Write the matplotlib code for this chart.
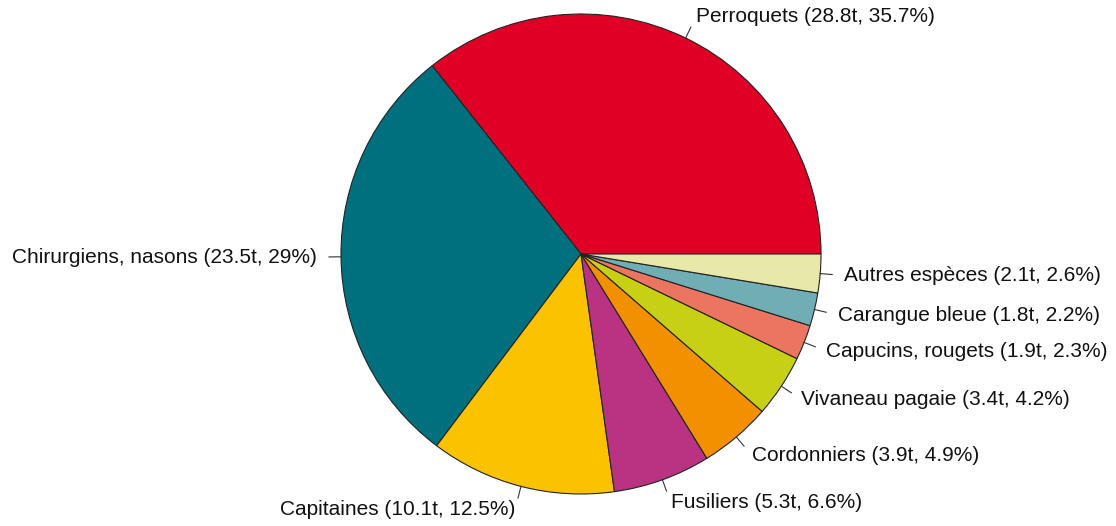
import numpy as np
import matplotlib.pyplot as plt

plt.rcParams["font.family"] = ["Liberation Sans", "DejaVu Sans"]

species = [
    "Perroquets",
    "Chirurgiens, nasons",
    "Capitaines",
    "Fusiliers",
    "Cordonniers",
    "Vivaneau pagaie",
    "Capucins, rougets",
    "Carangue bleue",
    "Autres espèces",
]
tonnes = [28.8, 23.5, 10.1, 5.3, 3.9, 3.4, 1.9, 1.8, 2.1]
pct_labels = ["35.7", "29", "12.5", "6.6", "4.9", "4.2", "2.3", "2.2", "2.6"]
colors = ["#E00026", "#00707E", "#FBC200", "#BA3282", "#F29000",
          "#C8D016", "#EB7560", "#6FAEB5", "#E8E8A8"]

labels = [f"{s} ({t}t, {p}%)" for s, t, p in zip(species, tonnes, pct_labels)]

W, H = 1116, 526
cx, cy, r = 581, 254, 240

fig = plt.figure(figsize=(W / 100, H / 100), dpi=100)
ax = fig.add_axes([0, 0, 1, 1])
wedges, _ = ax.pie(
    tonnes,
    colors=colors,
    startangle=0,
    counterclock=True,
    radius=1,
    wedgeprops=dict(edgecolor="#222222", linewidth=0.8),
)
for w, lab in zip(wedges, labels):
    ang = np.deg2rad((w.theta1 + w.theta2) / 2)
    x, y = np.cos(ang), np.sin(ang)
    ax.plot([x, 1.05 * x], [y, 1.05 * y], color="#333333", lw=0.8)
    ax.text(1.1 * x, 1.1 * y, lab, ha="left" if x > 0 else "right",
            va="center", fontsize=15, color="#111111")

ax.set_xlim(-cx / r, (W - cx) / r)
ax.set_ylim(-(H - cy) / r, cy / r)
ax.set_aspect("equal")
ax.axis("off")
fig.savefig("out.png", dpi=100)
